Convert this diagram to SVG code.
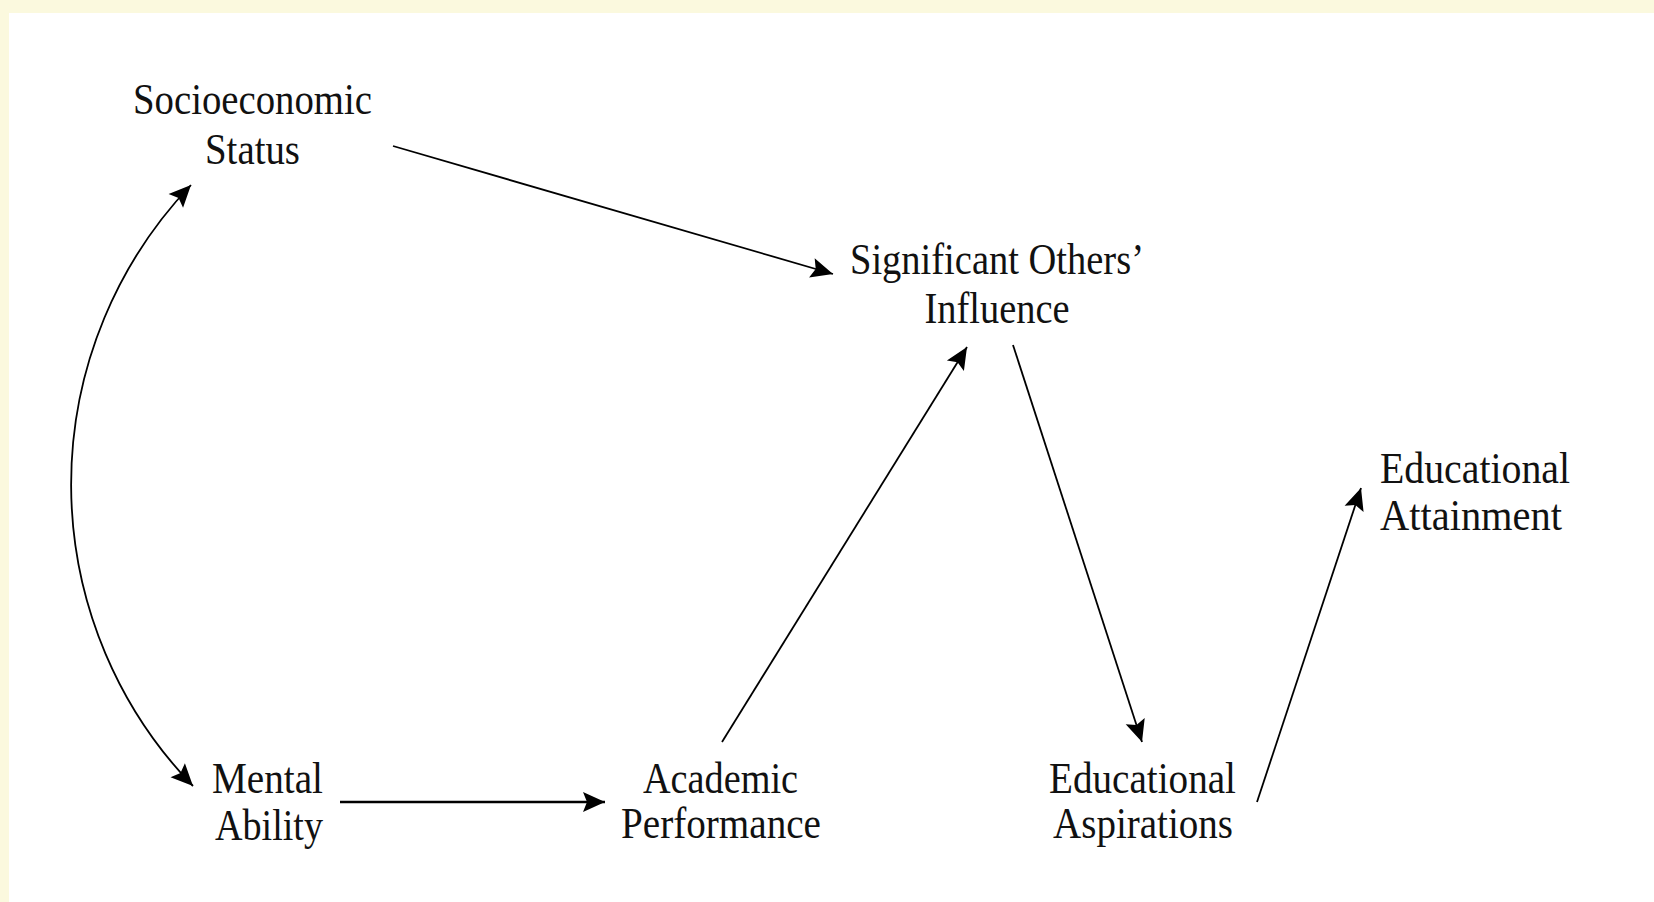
<svg xmlns="http://www.w3.org/2000/svg" width="1654" height="902" viewBox="0 0 1654 902">
  <defs>
    <style>
      .lbl { font-family: "Liberation Serif", "Times New Roman", serif; font-size: 44px; fill: #111; }
      .c { text-anchor: middle; }
      .edge { fill: none; stroke: #000; stroke-width: 1.8; }
      .thick { stroke-width: 2.6; }
    </style>
    <marker id="ah" markerUnits="userSpaceOnUse" markerWidth="26" markerHeight="24" viewBox="-23 -12 24 24" refX="0" refY="0" orient="auto-start-reverse">
      <path d="M0,0 L-22,-10 L-18,0 L-22,10 Z" fill="#000"/>
    </marker>
  </defs>
  <rect x="0" y="0" width="1654" height="902" fill="#ffffff"/>
  <rect x="0" y="0" width="1654" height="13" fill="#fbf9de"/>
  <rect x="0" y="0" width="9" height="902" fill="#fbf9de"/>

  <g id="connectors">
    <path class="edge" d="M191,185 A434,434 0 0 0 193,786" marker-start="url(#ah)" marker-end="url(#ah)"/>
    <line class="edge" x1="393" y1="146" x2="833" y2="274" marker-end="url(#ah)"/>
    <line class="edge thick" x1="340" y1="802" x2="605" y2="802" marker-end="url(#ah)"/>
    <line class="edge" x1="722" y1="742" x2="967" y2="347" marker-end="url(#ah)"/>
    <line class="edge" x1="1013" y1="345" x2="1142" y2="742" marker-end="url(#ah)"/>
    <line class="edge" x1="1257" y1="802" x2="1361" y2="488" marker-end="url(#ah)"/>
  </g>

  <g id="node-ses">
    <text class="lbl c" x="252.5" y="114" textLength="239" lengthAdjust="spacingAndGlyphs">Socioeconomic</text>
    <text class="lbl c" x="252.5" y="164" textLength="95" lengthAdjust="spacingAndGlyphs">Status</text>
  </g>
  <g id="node-soi">
    <text class="lbl c" x="997" y="274" textLength="294" lengthAdjust="spacingAndGlyphs">Significant Others’</text>
    <text class="lbl c" x="997" y="323" textLength="145" lengthAdjust="spacingAndGlyphs">Influence</text>
  </g>
  <g id="node-attainment">
    <text class="lbl" x="1380" y="483" textLength="190" lengthAdjust="spacingAndGlyphs">Educational</text>
    <text class="lbl" x="1380" y="530" textLength="182" lengthAdjust="spacingAndGlyphs">Attainment</text>
  </g>
  <g id="node-mental">
    <text class="lbl c" x="267.5" y="793" textLength="111" lengthAdjust="spacingAndGlyphs">Mental</text>
    <text class="lbl c" x="269" y="840" textLength="108" lengthAdjust="spacingAndGlyphs">Ability</text>
  </g>
  <g id="node-academic">
    <text class="lbl c" x="720.5" y="793" textLength="155" lengthAdjust="spacingAndGlyphs">Academic</text>
    <text class="lbl c" x="721" y="838" textLength="200" lengthAdjust="spacingAndGlyphs">Performance</text>
  </g>
  <g id="node-aspirations">
    <text class="lbl c" x="1142.5" y="793" textLength="187" lengthAdjust="spacingAndGlyphs">Educational</text>
    <text class="lbl c" x="1143" y="838" textLength="180" lengthAdjust="spacingAndGlyphs">Aspirations</text>
  </g>
</svg>
